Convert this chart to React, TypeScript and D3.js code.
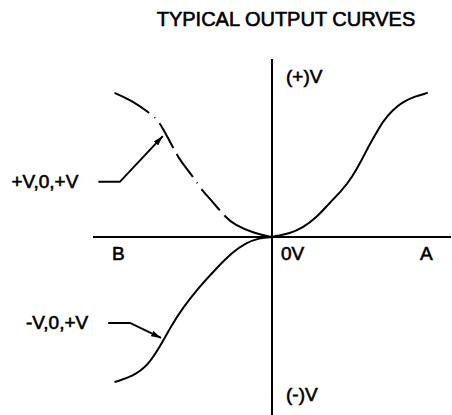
import { useEffect, useRef } from 'react';
import * as d3 from 'd3';

// Curve A (solid) : output rising from 0V towards (+)V
const curveAX = [0, 0.02, 0.1, 0.17, 0.25, 0.32, 0.39, 0.45, 0.5, 0.54, 0.58, 0.62, 0.67, 0.73, 0.8, 0.87];
const curveAY = [0, 0.005, 0.02, 0.05, 0.11, 0.19, 0.26, 0.34, 0.43, 0.51, 0.58, 0.65, 0.71, 0.76, 0.79, 0.81];

// +V,0,+V (dash-dot) : towards B, output positive
const curvePosX = [0, -0.1, -0.21, -0.26, -0.35, -0.39, -0.42, -0.52, -0.54, -0.61, -0.64, -0.69, -0.77, -0.88];
const curvePosY = [0, 0.02, 0.07, 0.11, 0.22, 0.26, 0.31, 0.44, 0.48, 0.61, 0.66, 0.7, 0.76, 0.81];

// -V,0,+V (solid) : towards B, output negative
const curveNegX = [0, -0.07, -0.15, -0.22, -0.31, -0.41, -0.5, -0.56, -0.62, -0.69, -0.78, -0.88];
const curveNegY = [0, -0.005, -0.035, -0.085, -0.175, -0.285, -0.4, -0.495, -0.605, -0.72, -0.785, -0.815];

// leader lines for the two curve labels (start, elbow, arrow tip)
const leaderPosX = [-0.97, -0.85, -0.61];
const leaderPosY = [0.31, 0.31, 0.567];
const leaderNegX = [-0.915, -0.793, -0.62];
const leaderNegY = [-0.483, -0.483, -0.567];

const title = 'TYPICAL OUTPUT CURVES';

const App = () => {
  const chartRef = useRef<HTMLDivElement>(null);

  useEffect(() => {
    if (!chartRef.current) return;
    d3.select(chartRef.current).selectAll('svg').remove();

    const width = 452;
    const height = 415;
    const font = '"Liberation Sans", Arial, Helvetica, sans-serif';

    const svg = d3.select(chartRef.current)
      .append('svg')
      .attr('width', width)
      .attr('height', height)
      .style('position', 'absolute')
      .style('left', '0px')
      .style('top', '0px')
      .style('background', '#fff');

    const x = d3.scaleLinear().domain([-1, 1]).range([93, 451]);
    const y = d3.scaleLinear().domain([-1, 1]).range([415, 59]);

    // arrowhead
    svg.append('defs')
      .append('marker')
      .attr('id', 'arrow')
      .attr('viewBox', '0 0 10 6')
      .attr('refX', 10)
      .attr('refY', 3)
      .attr('markerWidth', 10)
      .attr('markerHeight', 6)
      .attr('markerUnits', 'userSpaceOnUse')
      .attr('orient', 'auto')
      .append('path')
      .attr('d', 'M0,0 L10,3 L0,6 Z')
      .attr('fill', '#000');

    // axes
    svg.append('line')
      .attr('x1', x(-1)).attr('x2', x(1))
      .attr('y1', y(0)).attr('y2', y(0))
      .attr('stroke', '#000').attr('stroke-width', 2);
    svg.append('line')
      .attr('x1', x(0)).attr('x2', x(0))
      .attr('y1', y(1)).attr('y2', y(-1))
      .attr('stroke', '#000').attr('stroke-width', 2);

    // B-spline smooths the hand-read points
    const line = d3.line<[number, number]>()
      .x(d => x(d[0]))
      .y(d => y(d[1]))
      .curve(d3.curveBasis);

    const curves = [
      { xs: curveAX, ys: curveAY, dash: null },
      { xs: curvePosX, ys: curvePosY, dash: '40,7,1,7,28,7,28,7,1,7,28,7,300,1' },
      { xs: curveNegX, ys: curveNegY, dash: null },
    ];

    curves.forEach(c => {
      const pts = c.xs.map((v, i) => [v, c.ys[i]] as [number, number]);
      // draw from the far end so the dash pattern starts with the long segment
      const path = svg.append('path')
        .datum(pts.slice().reverse())
        .attr('d', line)
        .attr('fill', 'none')
        .attr('stroke', '#000')
        .attr('stroke-width', 2);
      if (c.dash) path.attr('stroke-dasharray', c.dash);
    });

    // leaders
    const leaderLine = d3.line<[number, number]>()
      .x(d => x(d[0]))
      .y(d => y(d[1]));

    [[leaderPosX, leaderPosY], [leaderNegX, leaderNegY]].forEach(([lx, ly]) => {
      svg.append('path')
        .datum(lx.map((v, i) => [v, ly[i]] as [number, number]))
        .attr('d', leaderLine)
        .attr('fill', 'none')
        .attr('stroke', '#000')
        .attr('stroke-width', 2)
        .attr('marker-end', 'url(#arrow)');
    });

    // title
    svg.append('text')
      .attr('x', 286)
      .attr('y', 26)
      .attr('text-anchor', 'middle')
      .style('font-family', font)
      .style('font-size', '20px')
      .style('stroke', '#000')
      .style('stroke-width', 0.6)
      .text(title);

    const labels = [
      { text: '(+)V', x: x(0) + 14, y: 83, anchor: 'start' },
      { text: '(-)V', x: x(0) + 14, y: 401, anchor: 'start' },
      { text: 'B', x: 112, y: y(0) + 23, anchor: 'start' },
      { text: '0V', x: x(0) + 9, y: y(0) + 23, anchor: 'start' },
      { text: 'A', x: 420, y: y(0) + 23, anchor: 'start' },
      { text: '+V,0,+V', x: x(leaderPosX[0]) - 20, y: y(leaderPosY[0]) + 6, anchor: 'end' },
      { text: '-V,0,+V', x: x(leaderNegX[0]) - 20, y: y(leaderNegY[0]) + 6, anchor: 'end' },
    ];

    labels.forEach(l => {
      svg.append('text')
        .attr('x', l.x)
        .attr('y', l.y)
        .attr('text-anchor', l.anchor)
        .style('font-family', font)
        .style('font-size', '19px')
        .style('stroke', '#000')
        .style('stroke-width', 0.6)
        .text(l.text);
    });

    return () => {
      if (chartRef.current) d3.select(chartRef.current).selectAll('svg').remove();
    };
  }, []);

  return <div ref={chartRef}></div>;
};

export default App;
